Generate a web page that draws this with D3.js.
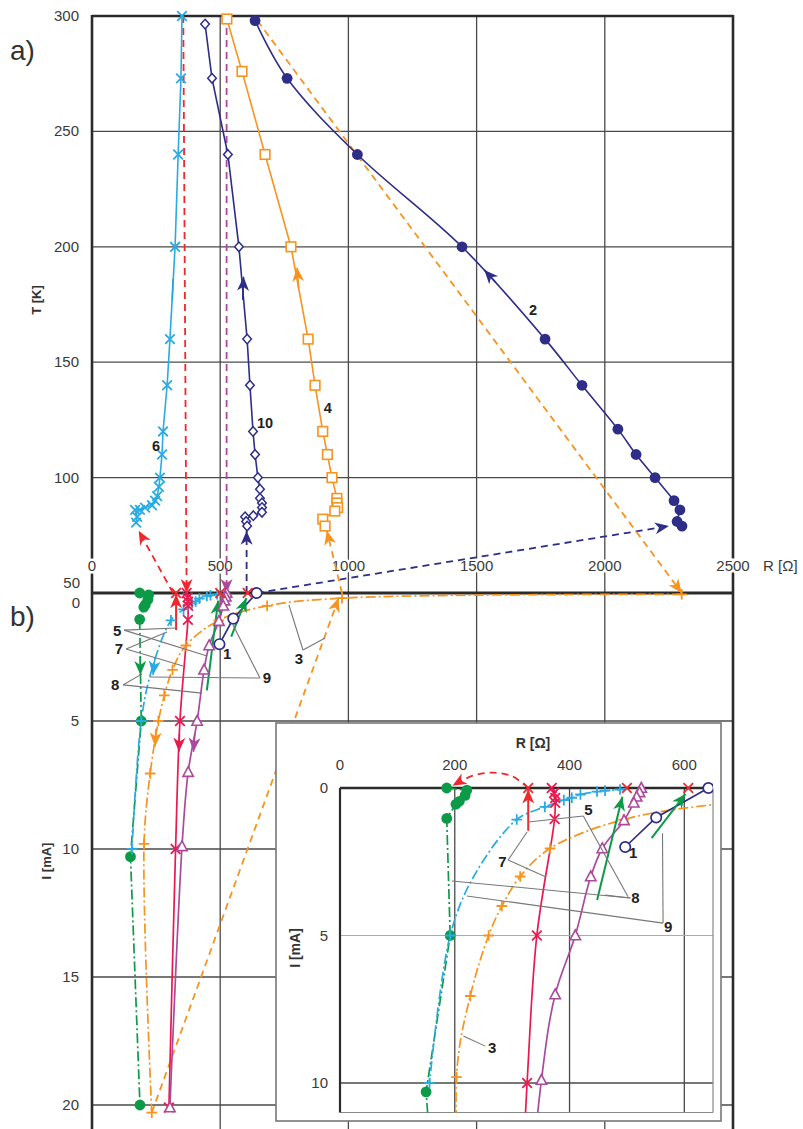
<!DOCTYPE html>
<html>
<head>
<meta charset="utf-8">
<script src="https://cdn.jsdelivr.net/npm/d3@7"></script>
<style>
body { margin: 0; background: #fff; }
svg { display: block; }
text { font-family: "Liberation Sans", Arial, sans-serif; }
</style>
</head>
<body>
<div id="chart"></div>
<script>
// ---------- a)  T [K] vs R [Ohm], pairs are [R, T] ----------
var curve6 = [[351,300],[347,273],[336,240],[324,200],[304,160],[293,140],[277,120],[273,110],[265,100],[261,96],[254,92],[246,90],[234,88],[207,87],[187,86],[168,86],[176,83],[172,80.5]]
var curve10 = [[441,296.5],[468,273],[530,240],[573,200],[605,160],[616,140],[628,120],[636,110],[647,100],[655,95],[655,91],[663,89],[663,87],[663,85],[629,83.5],[597,83],[601,81],[605,79]]
var curve4 = [[526,298.7],[585,276],[675,240],[776,200],[843,160],[870,140],[900,120],[918,110],[936,100],[955,91],[955,89],[958,87],[947,85.5],[900,82],[909,79]]
var curve2 = [[636,298],[761,273],[1035,240],[1443,200],[1767,160],[1911,140],[2051,121],[2122,110],[2196,100],[2270,90],[2293,86],[2282,81],[2301,79]]

// ---------- b)  I [mA] vs R [Ohm], pairs are [R, I] ----------
var bGreen = [[186,0],[221,0.07],[218,0.25],[208,0.45],[202,0.55],[186,1.03],[192,5],[150,10.3],[187,20]]
// third value 0 = point on the curve without a marker
var bBlue = [[500,0,0],[488,0.05],[462,0.09],[448,0.12],[419,0.22],[404,0.33],[390,0.41],[357,0.64],[308,1.07],[233,3.0,0],[192,5],[156,10]]
var bOrange = [[2300,0.05],[975,0.2],[683,0.5],[494,1.07],[366,2.05],[314,3],[282,4],[259,5],[227,7.05],[203,9.8],[233,20.3]]
var bCrimson = [[369,0],[373,0.17],[375,0.34],[375,0.5],[374,1.05],[343,5],[326,10],[300,20.1]]
var bMagenta = [[525,0],[522,0.15],[517,0.3],[512,0.5],[495,1.1],[457,2.05],[437,3],[410,5],[375,7],[351,9.9],[304,20.1]]
var bNavy1 = [[642,0],[551,1.0],[497,2.0]]
var redCrossR = [328,500,607]

// solid arrows in b)
var redArrow = [[328,1.45],[328,0.05]]
var greenArrow8 = [[448,3.8],[492,0.3]]
var greenArrow9 = [[543,1.7],[602,0.2]]

// dashed links between a) and b)
var linkRed1 = [{R:356,T:300},{R:369,I:0}]
var linkRed2 = [{R:316,I:0},{R:182,T:77}]
var linkMagenta = [{R:525,T:300},{R:525,I:0}]
var linkNavy1 = [{R:603,I:0},{R:603,T:77}]
var linkNavy2 = [{R:642,I:0},{R:2250,T:79}]
var linkOrange1 = [{R:645,T:298},{R:2300,I:0}]
var linkOrange2 = [{R:233,I:20.3},{R:962,I:0.2}]
var linkOrange3 = [{R:975,I:0},{R:916,T:77}]
var insetRedArc = [[328,0],[300,-0.4],[268,-0.52],[232,-0.42],[196,-0.08]]

// direction arrows along the curves
var dirA = [
  {col:"#1ea7e1", p:[[313,177],[316,186]]},
  {col:"#2e2d88", p:[[588,177],[591,187]]},
  {col:"#f7931e", p:[[806,182],[800,191]]},
  {col:"#2e2d88", p:[[1575,184.5],[1530,190]]}
]
var dirB = [
  {col:"#0c9a48", p:[[188,2.5],[189,3.2]]},
  {col:"#29abe2", p:[[246,2.5],[238,3.2]]},
  {col:"#f7931e", p:[[249,5.3],[246,6.0]]},
  {col:"#e8194f", p:[[341,5.5],[339,6.2]]},
  {col:"#a94a9c", p:[[401,5.5],[396,6.2]]}
]

// curve labels
var labelsA = [["2",1720,172.6],["4",920,130],["6",250,113.7],["10",675,123.7]]
var labelsB = [
  {t:"5", at:[98,1.48], from:[125,1.45], to:[[328,1.37],[449,2.46]]},
  {t:"7", at:[105,2.19], from:[133,2.19], to:[[293,1.52],[355,2.85]]},
  {t:"8", at:[90,3.59], from:[121,3.59], to:[[195,3.16],[429,3.91]]},
  {t:"9", at:[682,3.32], from:[655,3.32], to:[[550,1.25],[226,3.28]]},
  {t:"1", at:[527,2.38], from:null, to:[]},
  {t:"3", at:[807,2.58], from:[823,2.23], to:[[768,0.47],[909,1.76]]}
]
var labelsInset = [
  {t:"5", at:[433,0.75], from:[424,0.95], to:[[328,1.15],[502,3.69]]},
  {t:"7", at:[283,2.51], from:[293,2.44], to:[[326,1.49],[359,3.02]]},
  {t:"8", at:[515,3.73], from:[506,3.73], to:[[195,3.15],[462,3.63]]},
  {t:"9", at:[572,4.71], from:[563,4.58], to:[[221,3.66],[562,1.53]]},
  {t:"1", at:[511,2.2], from:null, to:[]},
  {t:"3", at:[265,8.81], from:[253,8.75], to:[[215,8.41]]}
]

var rTicks = [0,500,1000,1500,2000,2500]
var tTicks = [100,150,200,250,300]
var iTicks = [5,10,15,20]
var insetRTicks = [0,200,400,600]
var insetITicks = [0,5,10]

var navy = "#2e2d88", lightBlue = "#29abe2", orange = "#f7931e", green = "#0c9a48",
    crimson = "#e8194f", magenta = "#a94a9c", red = "#f0282d", grid = "#4a4a4a"
var dashed = "7,5", dashDot = "10,3,2,3"

var W = 803, H = 1129
var svg = d3.select("#chart").append("svg").attr("width", W).attr("height", H)

var x = d3.scaleLinear().domain([0,2500]).range([92,733])
var yT = d3.scaleLinear().domain([50,300]).range([593,16])
var yI = d3.scaleLinear().domain([0,20]).range([593,1105])
var xi = d3.scaleLinear().domain([0,650]).range([340,713])
var yi = d3.scaleLinear().domain([0,10]).range([788,1083])

// arrowheads
var defs = svg.append("defs")
;[navy, lightBlue, orange, green, crimson, magenta, red].forEach(function(c){
  defs.append("marker").attr("id", "ah" + c.slice(1))
    .attr("viewBox", "-15 -7 16 14").attr("refX", 0).attr("refY", 0)
    .attr("markerWidth", 16).attr("markerHeight", 14)
    .attr("markerUnits", "userSpaceOnUse").attr("orient", "auto")
    .append("path").attr("d", "M0,0L-14,-6L-10,0L-14,6Z").attr("fill", c)
})
defs.append("clipPath").attr("id", "clipB").append("rect")
  .attr("x", 92).attr("y", 560).attr("width", 641).attr("height", H - 560)
defs.append("clipPath").attr("id", "clipInset").append("rect")
  .attr("x", xi(0)).attr("y", yi(-0.9)).attr("width", xi(650) - xi(0)).attr("height", yi(11) - yi(-0.9))

function drawMarker(g, type, px, py, col) {
  var s = 4.8
  if (type == "x" || type == "+") {
    var d = type == "x"
      ? "M"+(px-s)+","+(py-s)+"L"+(px+s)+","+(py+s)+"M"+(px-s)+","+(py+s)+"L"+(px+s)+","+(py-s)
      : "M"+(px-s-0.5)+","+py+"L"+(px+s+0.5)+","+py+"M"+px+","+(py-s-0.5)+"L"+px+","+(py+s+0.5)
    g.append("path").attr("d", d).attr("stroke", col).attr("stroke-width", 1.8).attr("fill", "none")
  } else if (type == "dot") {
    g.append("circle").attr("cx", px).attr("cy", py).attr("r", 5.4).attr("fill", col)
  } else if (type == "circle") {
    g.append("circle").attr("cx", px).attr("cy", py).attr("r", 5.2).attr("fill", "#fff")
      .attr("stroke", col).attr("stroke-width", 1.7)
  } else if (type == "square") {
    g.append("rect").attr("x", px-4.8).attr("y", py-4.8).attr("width", 9.6).attr("height", 9.6)
      .attr("fill", "#fff").attr("stroke", col).attr("stroke-width", 1.6)
  } else if (type == "diamond") {
    g.append("path").attr("d", "M"+px+","+(py-4.8)+"L"+(px+4.3)+","+py+"L"+px+","+(py+4.8)+"L"+(px-4.3)+","+py+"Z")
      .attr("fill", "#fff").attr("stroke", col).attr("stroke-width", 1.5)
  } else if (type == "tri") {
    g.append("path").attr("d", "M"+px+","+(py-5.5)+"L"+(px+5.2)+","+(py+4.2)+"L"+(px-5.2)+","+(py+4.2)+"Z")
      .attr("fill", "#fff").attr("stroke", col).attr("stroke-width", 1.6)
  }
}

function hline(g, y0, x0, x1, col, w) {
  g.append("line").attr("x1", x0).attr("x2", x1).attr("y1", y0).attr("y2", y0).attr("stroke", col).attr("stroke-width", w)
}
function vline(g, x0, y0, y1, col, w) {
  g.append("line").attr("x1", x0).attr("x2", x0).attr("y1", y0).attr("y2", y1).attr("stroke", col).attr("stroke-width", w)
}

// ---------- grid + frame ----------
var gGrid = svg.append("g")
rTicks.slice(1, 5).forEach(function(r){ vline(gGrid, x(r), yT(300), H, grid, 1.3) })
tTicks.slice(0, 4).forEach(function(t){ hline(gGrid, yT(t), x(0), x(2500), grid, 1.3) })
iTicks.forEach(function(i){ hline(gGrid, yI(i), x(0), x(2500), grid, 1.3) })
vline(gGrid, x(0), yT(300) - 1, H, "#2b2b2b", 2.6)
vline(gGrid, x(2500), yT(300) - 1, H, "#2b2b2b", 2.6)
hline(gGrid, yT(300), x(0), x(2500), "#2b2b2b", 2.6)
hline(gGrid, yI(0), x(0), x(2500), "#2b2b2b", 3)

// ticks text
var gTxt = svg.append("g").attr("fill", "#3a3a3a").style("font-size", "15px")
rTicks.forEach(function(r){
  gTxt.append("text").attr("x", x(r)).attr("y", 571).attr("text-anchor", "middle")
    .attr("stroke", "#fff").attr("stroke-width", 5).attr("paint-order", "stroke").text(r)
})
gTxt.append("text").attr("x", 763).attr("y", 571).text("R  [Ω]")
tTicks.forEach(function(t){
  gTxt.append("text").attr("x", 79).attr("y", yT(t) + 5).attr("text-anchor", "end").text(t)
})
gTxt.append("text").attr("x", 80).attr("y", 588).attr("text-anchor", "end").text("50")
gTxt.append("text").attr("x", 80).attr("y", 608).attr("text-anchor", "end").text("0")
iTicks.forEach(function(i){
  gTxt.append("text").attr("x", 79).attr("y", yI(i) + 5).attr("text-anchor", "end").text(i)
})
svg.append("text").attr("transform", "translate(41,300) rotate(-90)").attr("text-anchor", "middle")
  .style("font-size", "13px").style("font-weight", "bold").attr("fill", "#333").text("T  [K]")
svg.append("text").attr("transform", "translate(51,861) rotate(-90)").attr("text-anchor", "middle")
  .style("font-size", "13px").style("font-weight", "bold").attr("fill", "#333").text("I  [mA]")
svg.append("text").attr("x", 10).attr("y", 60).style("font-size", "28px").attr("fill", "#333").text("a)")
svg.append("text").attr("x", 10).attr("y", 626).style("font-size", "28px").attr("fill", "#333").text("b)")

// ---------- dashed links ----------
function linkPt(p) { return [x(p.R), p.T !== undefined ? yT(p.T) : yI(p.I)] }
var links = [
  {pts: linkRed1, col: red}, {pts: linkRed2, col: red}, {pts: linkMagenta, col: magenta},
  {pts: linkNavy1, col: navy}, {pts: linkNavy2, col: navy},
  {pts: linkOrange1, col: orange}, {pts: linkOrange2, col: orange}, {pts: linkOrange3, col: orange}
]
var gLinks = svg.append("g")
links.forEach(function(l){
  gLinks.append("path").attr("d", d3.line()(l.pts.map(linkPt)))
    .attr("fill", "none").attr("stroke", l.col).attr("stroke-width", 1.8)
    .attr("stroke-dasharray", dashed).attr("marker-end", "url(#ah" + l.col.slice(1) + ")")
})

// ---------- a) curves ----------
var seriesA = [
  {pts: curve6, col: lightBlue, mk: "x", curve: d3.curveLinear},
  {pts: curve10, col: navy, mk: "diamond", curve: d3.curveLinear},
  {pts: curve4, col: orange, mk: "square", curve: d3.curveLinear},
  {pts: curve2, col: navy, mk: "dot", curve: d3.curveCatmullRom}
]
var gA = svg.append("g")
seriesA.forEach(function(s){
  var line = d3.line().x(function(d){ return x(d[0]) }).y(function(d){ return yT(d[1]) }).curve(s.curve)
  gA.append("path").attr("d", line(s.pts)).attr("fill", "none").attr("stroke", s.col).attr("stroke-width", 1.6)
})
seriesA.forEach(function(s){
  s.pts.forEach(function(d){ drawMarker(gA, s.mk, x(d[0]), yT(d[1]), s.col) })
})
dirA.forEach(function(a){
  gA.append("path").attr("d", d3.line()(a.p.map(function(d){ return [x(d[0]), yT(d[1])] })))
    .attr("stroke", a.col).attr("stroke-width", 1.6).attr("marker-end", "url(#ah" + a.col.slice(1) + ")")
})
labelsA.forEach(function(l){
  gA.append("text").attr("x", x(l[1])).attr("y", yT(l[2])).attr("dy", "0.35em").attr("text-anchor", "middle")
    .style("font-size", "14.5px").style("font-weight", "bold").attr("fill", "#222").text(l[0])
})

// ---------- b) curves (main panel and inset) ----------
var seriesB = [
  {pts: bGreen, col: green, mk: "dot", dash: dashDot, curve: d3.curveLinear},
  {pts: bBlue, col: lightBlue, mk: "+", dash: dashDot, curve: d3.curveCatmullRom},
  {pts: bOrange, col: orange, mk: "+", dash: dashDot, curve: d3.curveCatmullRom},
  {pts: bCrimson, col: crimson, mk: "x", dash: null, curve: d3.curveCatmullRom},
  {pts: bMagenta, col: magenta, mk: "tri", dash: null, curve: d3.curveCatmullRom},
  {pts: bNavy1, col: navy, mk: "circle", dash: null, curve: d3.curveLinear}
]

function drawB(g, sx, sy, main) {
  seriesB.forEach(function(s){
    var line = d3.line().x(function(d){ return sx(d[0]) }).y(function(d){ return sy(d[1]) }).curve(s.curve)
    g.append("path").attr("d", line(s.pts)).attr("fill", "none").attr("stroke", s.col)
      .attr("stroke-width", 1.7).attr("stroke-dasharray", s.dash)
  })
  ;[{p: redArrow, col: red}, {p: greenArrow8, col: green}, {p: greenArrow9, col: green}].forEach(function(a){
    g.append("path").attr("d", d3.line()(a.p.map(function(d){ return [sx(d[0]), sy(d[1])] })))
      .attr("stroke", a.col).attr("stroke-width", 2).attr("marker-end", "url(#ah" + a.col.slice(1) + ")")
  })
  seriesB.forEach(function(s){
    s.pts.forEach(function(d){ if (d.length < 3) drawMarker(g, s.mk, sx(d[0]), sy(d[1]), s.col) })
  })
  redCrossR.forEach(function(r){ drawMarker(g, "x", sx(r), sy(0), red) })
  if (main) {
    dirB.forEach(function(a){
      g.append("path").attr("d", d3.line()(a.p.map(function(d){ return [sx(d[0]), sy(d[1])] })))
        .attr("stroke", a.col).attr("stroke-width", 1.6).attr("marker-end", "url(#ah" + a.col.slice(1) + ")")
    })
  }
}
function drawLabels(g, sx, sy, labels) {
  labels.forEach(function(l){
    l.to.forEach(function(t){
      g.append("line").attr("x1", sx(l.from[0])).attr("y1", sy(l.from[1]))
        .attr("x2", sx(t[0])).attr("y2", sy(t[1])).attr("stroke", "#777").attr("stroke-width", 1.1)
    })
    g.append("text").attr("x", sx(l.at[0])).attr("y", sy(l.at[1])).attr("dy", "0.35em")
      .attr("text-anchor", "middle").style("font-size", "15px").style("font-weight", "bold")
      .attr("fill", "#222").text(l.t)
  })
}

var gB = svg.append("g").attr("clip-path", "url(#clipB)")
drawB(gB, x, yI, true)
drawLabels(svg.append("g"), x, yI, labelsB)

// ---------- inset ----------
var gIn = svg.append("g")
gIn.append("rect").attr("x", 276).attr("y", 723).attr("width", 445).attr("height", 398)
  .attr("fill", "#fff").attr("stroke", "#777").attr("stroke-width", 1.6)
insetRTicks.slice(1).forEach(function(r){ vline(gIn, xi(r), yi(0), yi(11), grid, 1.3) })
hline(gIn, yi(5), xi(0), xi(650), "#aaa", 1.2)
hline(gIn, yi(10), xi(0), xi(650), grid, 1.3)
vline(gIn, xi(650), yi(0), yi(11), "#888", 1.2)
hline(gIn, yi(11), xi(0), xi(650), "#888", 1.2)
vline(gIn, xi(0), yi(0), yi(11), "#2b2b2b", 2.2)
hline(gIn, yi(0), xi(0), xi(650), "#2b2b2b", 2.6)
insetRTicks.forEach(function(r){
  gIn.append("text").attr("x", xi(r)).attr("y", 770).attr("text-anchor", "middle")
    .style("font-size", "15px").attr("fill", "#3a3a3a").text(r)
})
insetITicks.forEach(function(i){
  gIn.append("text").attr("x", 328).attr("y", yi(i) + 5).attr("text-anchor", "end")
    .style("font-size", "15px").attr("fill", "#3a3a3a").text(i)
})
gIn.append("text").attr("x", 533).attr("y", 748).attr("text-anchor", "middle")
  .style("font-size", "14px").style("font-weight", "bold").attr("fill", "#333").text("R  [Ω]")
gIn.append("text").attr("transform", "translate(300,948) rotate(-90)").attr("text-anchor", "middle")
  .style("font-size", "14px").style("font-weight", "bold").attr("fill", "#333").text("I  [mA]")

var gInPlot = gIn.append("g").attr("clip-path", "url(#clipInset)")
drawB(gInPlot, xi, yi, false)
gInPlot.append("path")
  .attr("d", d3.line().x(function(d){ return xi(d[0]) }).y(function(d){ return yi(d[1]) }).curve(d3.curveCatmullRom)(insetRedArc))
  .attr("fill", "none").attr("stroke", red).attr("stroke-width", 1.8).attr("stroke-dasharray", dashed)
  .attr("marker-end", "url(#ah" + red.slice(1) + ")")
drawLabels(gIn.append("g"), xi, yi, labelsInset)
</script>
</body>
</html>
